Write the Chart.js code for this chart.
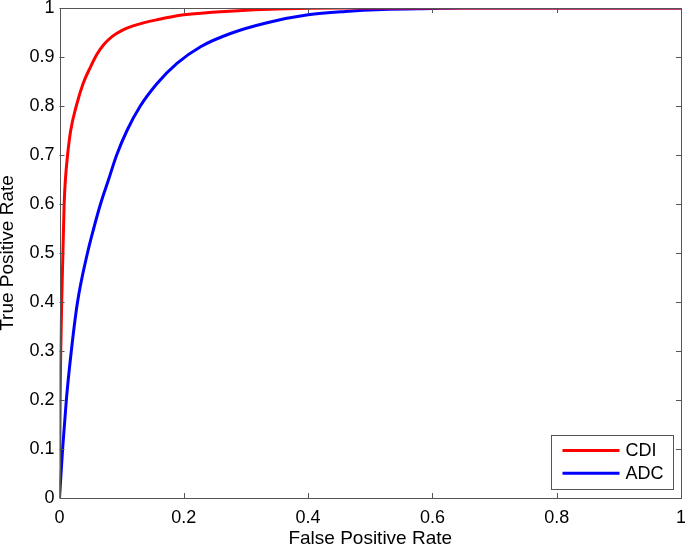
<!DOCTYPE html>
<html>
<head>
<meta charset="utf-8">
<script src="https://cdn.jsdelivr.net/npm/chart.js@4.4.0/dist/chart.umd.min.js"></script>
<style>
  html, body { margin: 0; padding: 0; background: #fff; }
  #wrap { width: 685px; height: 546px; }
</style>
</head>
<body>
<div id="wrap"><canvas id="roc"></canvas></div>
<script>
// ROC curves (false positive rate, true positive rate)
const cdiFpr = [0, 0.0005, 0.001, 0.002, 0.0035, 0.0055, 0.0075, 0.0095, 0.013, 0.018, 0.027, 0.038, 0.05, 0.06, 0.071, 0.085, 0.1, 0.125, 0.157, 0.2, 0.28, 0.35, 0.45, 0.6, 0.8, 1];
const cdiTpr = [0, 0.1, 0.2, 0.3, 0.4, 0.5, 0.6, 0.65, 0.7, 0.75, 0.8, 0.846, 0.88, 0.905, 0.925, 0.942, 0.954, 0.966, 0.976, 0.986, 0.994, 0.998, 1, 1, 1, 1];

const adcFpr = [0, 0.005, 0.011, 0.019, 0.029, 0.045, 0.055, 0.066, 0.079, 0.092, 0.109, 0.13, 0.157, 0.189, 0.227, 0.275, 0.334, 0.4, 0.46, 0.52, 0.6, 0.65, 0.8, 1];
const adcTpr = [0, 0.1, 0.2, 0.3, 0.4, 0.5, 0.55, 0.6, 0.65, 0.7, 0.751, 0.8, 0.846, 0.887, 0.921, 0.948, 0.97, 0.986, 0.993, 0.997, 0.999, 1, 1, 1];

const seriesNames = ["CDI", "ADC"];
const seriesColors = ["#ff0000", "#0000ff"];

const xTickLabels = ["0", "0.2", "0.4", "0.6", "0.8", "1"];
const yTickLabels = ["0", "0.1", "0.2", "0.3", "0.4", "0.5", "0.6", "0.7", "0.8", "0.9", "1"];

const toPoints = (xs, ys) => xs.map((x, i) => ({x: x, y: ys[i]}));
const fontFamily = "'Liberation Sans', Arial, sans-serif";

// matlab style box, inward ticks and legend
const matlabFrame = {
    id: "matlabFrame",
    afterDraw(chart) {
        const ctx = chart.ctx;
        const a = chart.chartArea;
        const xs = chart.scales.x, ys = chart.scales.y;
        const len = 5;
        ctx.save();
        ctx.strokeStyle = "#555";
        ctx.lineWidth = 1;
        ctx.strokeRect(Math.round(a.left) + 0.5, Math.round(a.top) + 0.5,
                       Math.round(a.right - a.left) - 1, Math.round(a.bottom - a.top));
        ctx.beginPath();
        xs.ticks.forEach(t => {
            const px = Math.round(xs.getPixelForValue(t.value)) + 0.5;
            ctx.moveTo(px, a.bottom); ctx.lineTo(px, a.bottom - len);
            ctx.moveTo(px, a.top); ctx.lineTo(px, a.top + len);
        });
        ys.ticks.forEach(t => {
            const py = Math.round(ys.getPixelForValue(t.value)) + 0.5;
            ctx.moveTo(a.left, py); ctx.lineTo(a.left + len, py);
            ctx.moveTo(a.right, py); ctx.lineTo(a.right - len, py);
        });
        ctx.stroke();

        // legend box, lower right inside the axes
        const bw = 122, bh = 54;
        const bx = Math.round(a.right - 8 - bw) + 0.5;
        const by = Math.round(a.bottom - 9 - bh) + 0.5;
        ctx.fillStyle = "#fff";
        ctx.fillRect(bx, by, bw, bh);
        ctx.strokeRect(bx, by, bw, bh);
        ctx.font = "18px " + fontFamily;
        ctx.textBaseline = "middle";
        chart.data.datasets.forEach((ds, i) => {
            const cy = by + 15 + i * 22.7;
            ctx.strokeStyle = ds.borderColor;
            ctx.lineWidth = 3;
            ctx.beginPath();
            ctx.moveTo(bx + 11, cy); ctx.lineTo(bx + 68, cy);
            ctx.stroke();
            ctx.fillStyle = "#000";
            ctx.fillText(ds.label, bx + 74, cy + 1);
        });
        ctx.restore();
    }
};

new Chart(document.getElementById("roc"), {
    type: "scatter",
    data: {
        datasets: [
            {
                label: seriesNames[0],
                data: toPoints(cdiFpr, cdiTpr),
                borderColor: seriesColors[0],
                backgroundColor: seriesColors[0],
                borderWidth: 3,
                showLine: true,
                pointRadius: 0,
                cubicInterpolationMode: "monotone"
            },
            {
                label: seriesNames[1],
                data: toPoints(adcFpr, adcTpr),
                borderColor: seriesColors[1],
                backgroundColor: seriesColors[1],
                borderWidth: 3,
                showLine: true,
                pointRadius: 0,
                cubicInterpolationMode: "monotone"
            }
        ]
    },
    options: {
        responsive: true,
        maintainAspectRatio: false,
        animation: false,
        layout: { padding: { top: 8, right: 4, left: 0, bottom: 0 } },
        plugins: {
            legend: { display: false },
            tooltip: { enabled: false }
        },
        scales: {
            x: {
                type: "linear",
                min: 0, max: 1,
                grid: { display: false, drawTicks: false },
                border: { display: false },
                afterBuildTicks: s => { s.ticks = xTickLabels.map(l => ({value: parseFloat(l)})); },
                afterFit: s => { s.height = 48; s.paddingLeft = 0; s.paddingRight = 0; },
                ticks: {
                    color: "#000",
                    padding: 9,
                    maxRotation: 0,
                    font: { family: fontFamily, size: 18 },
                    callback: (v, i) => xTickLabels[i]
                },
                title: {
                    display: true,
                    text: "False Positive Rate",
                    color: "#000",
                    font: { family: fontFamily, size: 19, lineHeight: 0.8 },
                    padding: 0
                }
            },
            y: {
                type: "linear",
                min: 0, max: 1,
                grid: { display: false, drawTicks: false },
                border: { display: false },
                afterBuildTicks: s => { s.ticks = yTickLabels.map(l => ({value: parseFloat(l)})); },
                afterFit: s => { s.width = 59.5; s.paddingTop = 0; s.paddingBottom = 0; },
                ticks: {
                    color: "#000",
                    padding: 5,
                    font: { family: fontFamily, size: 18 },
                    callback: (v, i) => yTickLabels[i]
                },
                title: {
                    display: true,
                    text: "True Positive Rate",
                    color: "#000",
                    font: { family: fontFamily, size: 19, lineHeight: 0.85 },
                    padding: 0
                }
            }
        }
    },
    plugins: [matlabFrame]
});
</script>
</body>
</html>
